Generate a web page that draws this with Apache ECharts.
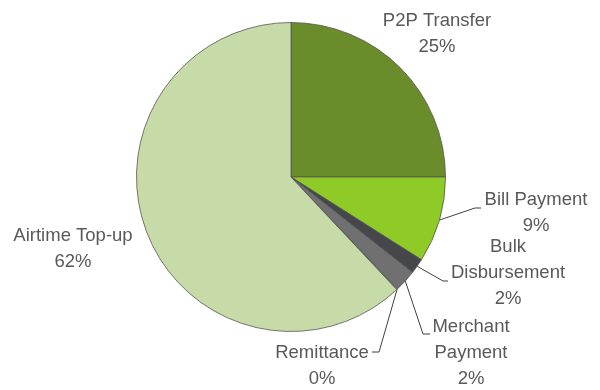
<!DOCTYPE html>
<html>
<head>
<meta charset="utf-8">
<script src="https://cdn.jsdelivr.net/npm/echarts@6/dist/echarts.min.js"></script>
<style>
  html, body { margin: 0; padding: 0; background: #ffffff; }
  #chart { width: 600px; height: 390px; }
</style>
</head>
<body>
<div id="chart"></div>
<script>
// Transaction mix by type (share of volume, %)
const categories = ['P2P Transfer', 'Bill Payment', 'Bulk Disbursement', 'Merchant Payment', 'Remittance', 'Airtime Top-up'];
const shares = [25.0, 9.0, 1.6, 2.3, 0.1, 62.0];
const sliceColors = ['#6b8c2a', '#8fcb26', '#46474b', '#707070', '#9a9a9a', '#c7dba8'];

// Names that wrap onto two lines in their labels
const wrapped = { 'Bulk Disbursement': 'Bulk\nDisbursement', 'Merchant Payment': 'Merchant\nPayment' };

// Label placement: block centre (x, y) and the end of the leader line (null = no leader)
const labelSpots = {
  'P2P Transfer':      { x: 437, y: 34,  lineEnd: null },
  'Bill Payment':      { x: 536, y: 213, lineEnd: [481, 208], elbow: [475, 208] },
  'Bulk Disbursement': { x: 508, y: 273, lineEnd: [448, 281], elbow: [443, 281] },
  'Merchant Payment':  { x: 471, y: 353, lineEnd: [430, 334], elbow: [423, 334] },
  'Remittance':        { x: 322, y: 366, lineEnd: [372, 352], elbow: [379, 352] },
  'Airtime Top-up':    { x: 73,  y: 249, lineEnd: null }
};

const chart = echarts.init(document.getElementById('chart'), null, { renderer: 'canvas' });

const seriesData = categories.map((name, i) => ({
  name: name,
  value: shares[i],
  itemStyle: { color: sliceColors[i] },
  labelLine: { show: !!labelSpots[name].lineEnd }
}));

chart.setOption({
  animation: false,
  series: [{
    type: 'pie',
    center: [291, 177],
    radius: 154.5,
    startAngle: 90,
    clockwise: true,
    avoidLabelOverlap: false,
    minShowLabelAngle: 0,
    data: seriesData,
    itemStyle: { borderColor: '#555555', borderWidth: 0.8 },
    label: {
      show: true,
      position: 'outside',
      color: '#595959',
      fontFamily: "'Liberation Sans', Arial, sans-serif",
      fontSize: 18.5,
      lineHeight: 26,
      align: 'center',
      formatter: p => (wrapped[p.name] || p.name) + '\n' + Math.round(p.percent) + '%'
    },
    labelLine: {
      show: true,
      lineStyle: { color: '#404040', width: 1 }
    },
    labelLayout: function (params) {
      const name = categories[params.dataIndex];
      const spot = labelSpots[name];
      const out = {
        x: spot.x,
        y: spot.y,
        align: 'center',
        verticalAlign: 'middle'
      };
      if (spot.lineEnd && params.labelLinePoints) {
        const start = params.labelLinePoints[0];
        out.labelLinePoints = [start, spot.elbow, spot.lineEnd];
      }
      return out;
    },
    emphasis: { disabled: true }
  }]
});
</script>
</body>
</html>
